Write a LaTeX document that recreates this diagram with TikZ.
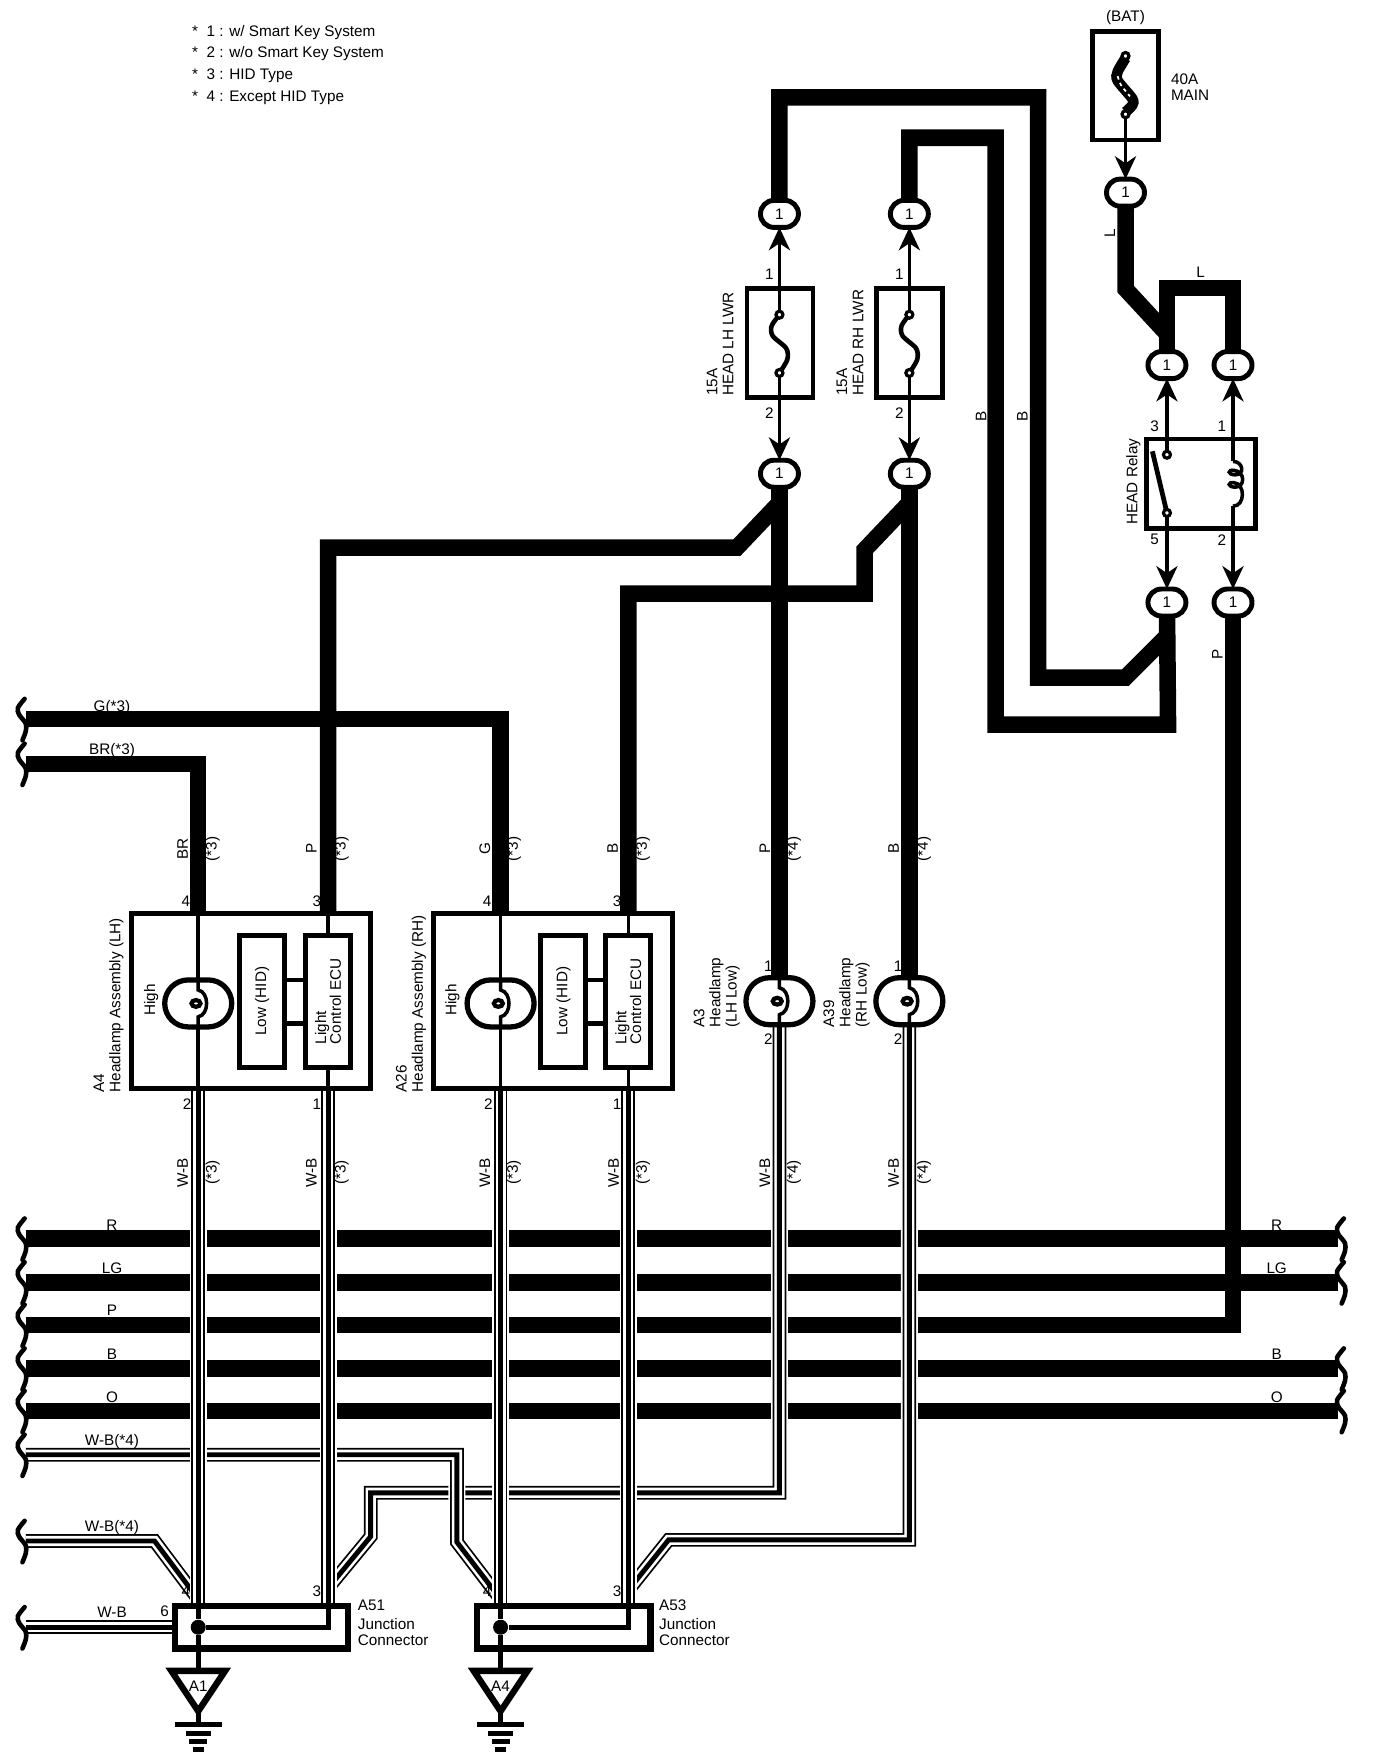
\documentclass[tikz,border=0pt]{standalone}
\usepackage{fontspec}
\setmainfont{Liberation Sans}
\usetikzlibrary{arrows.meta,backgrounds,shapes.misc}

\tikzset{
  wavy/.pic={\draw[line width=1.3pt,line cap=round] plot[smooth] coordinates {(-1,-18) (-7,-10) (-6,-4) (0,4) (0,11) (-3,19)};},
  fusefil/.pic={\draw[line width=1.3pt] plot[smooth] coordinates {(0,0) (-7,10) (-6,19) (6,30) (7,40) (0,52)};},
  lampfil/.pic={
    \draw[line width=1pt] (0,-21) -- (0,-12) .. controls (10,-10) and (10,10) .. (0,12) -- (0,21);
    \draw[line width=1.2pt,fill=white] (-2,0) ellipse (4 and 3);}
}

\begin{document}
\begin{tikzpicture}[x=0.011196cm, y=-0.011196cm]

\tikzstyle{lbl} = [font=\fontsize{4.35}{4.6}\selectfont, inner sep=0pt, align=left]
\tikzstyle{rlbl} = [lbl, rotate=90]
\tikzstyle{wire} = [line width=4.7pt]
\tikzstyle{thinwire} = [line width=1pt]
\tikzstyle{pinwire} = [line width=1pt, -{Stealth[length=6.5pt,width=6pt,inset=2pt]}]
\tikzstyle{boxline} = [line width=1.35pt]
\tikzstyle{cable} = [line width=3.9pt, preaction={draw=white,line width=4.8pt}, postaction={draw=white,line width=2.9pt}, postaction={draw=black,line width=1.4pt}]
\tikzstyle{box} = [rectangle, draw=black, line width=1.4pt, outer sep=0pt, inner sep=0pt]
\tikzstyle{fusebox} = [box, minimum width=0.66cm, minimum height=1.086cm]
\tikzstyle{asmbox} = [box, minimum width=2.39cm, minimum height=1.747cm]
\tikzstyle{subbox} = [box, font=\fontsize{4.35}{4.2}\selectfont, align=left, rotate=90, minimum width=1.32cm, minimum height=0.448cm]
\tikzstyle{jcbox} = [box, line width=1.8pt, minimum width=1.735cm, minimum height=0.425cm]
\tikzstyle{oval} = [rounded rectangle, draw=black, fill=white, line width=1.4pt, outer sep=0pt, inner sep=0pt, minimum width=0.38cm, minimum height=0.27cm, font=\fontsize{4.35}{4.6}\selectfont]
\tikzstyle{lamp} = [rounded rectangle, draw=black, fill=white, line width=1.5pt, outer sep=0pt, inner sep=0pt, minimum width=0.67cm, minimum height=0.47cm]
\tikzstyle{term} = [circle, draw=black, fill=white, line width=0.9pt, inner sep=0pt, minimum size=0.07cm, outer sep=0pt]
\tikzstyle{dot} = [circle, fill=black, inner sep=0pt, minimum size=0.15cm]

\useasboundingbox (0,0) rectangle (1229,1568);

% legend
\node[lbl, anchor=west] at (171,29) (legi) {*\ \ 1 : w/ Smart Key System};
\node[lbl, anchor=west] at (171,48) (legii) {*\ \ 2 : w/o Smart Key System};
\node[lbl, anchor=west] at (171,68) (legiii) {*\ \ 3 : HID Type};
\node[lbl, anchor=west] at (171,87) (legiv) {*\ \ 4 : Except HID Type};

% fuses and relay
\node[lbl] at (1005,16) (batlbl) {(BAT)};
\node[fusebox] at (1005,76.5) (fusemain) {};
\node[lbl, anchor=west] at (1045,78) (mainlbl) {40A\\MAIN};
\node[fusebox] at (696.5,306.5) (fuselh) {};
\node[fusebox] at (812,306.5) (fuserh) {};
\node[rlbl, anchor=west] at (643,354) (fuselhlbl) {15A\\HEAD LH LWR};
\node[rlbl, anchor=west] at (759,354) (fuserhlbl) {15A\\HEAD RH LWR};
\node[box, minimum width=1.086cm, minimum height=0.896cm] at (1072.5,432) (relay) {};
\node[rlbl] at (1012,430) (relaylbl) {HEAD Relay};

% connector ovals
\node[oval] at (696,191) (topa) {1};
\node[oval] at (812,191) (topb) {1};
\node[oval] at (696,423) (lowa) {1};
\node[oval] at (812,423) (lowb) {1};
\node[oval] at (1005,172) (bat) {1};
\node[oval] at (1042,326) (relc) {1};
\node[oval] at (1101,326) (reld) {1};
\node[oval] at (1042,538) (rele) {1};
\node[oval] at (1101,538) (relf) {1};

% headlamps
\node[asmbox] at (224.5,894) (asmlh) {};
\node[asmbox] at (494,894) (asmrh) {};
\node[lamp] at (177,896) (hilh) {};
\node[lamp] at (447,896) (hirh) {};
\node[subbox] at (234,894) (lowlh) {Low (HID)};
\node[subbox] at (293,894) (ecuth) {Light\\Control ECU};
\node[subbox] at (503,894) (lowrh) {Low (HID)};
\node[subbox] at (561,894) (ecurh) {Light\\Control ECU};
\node[lamp] at (696,894) (lamplh) {};
\node[lamp] at (812,894) (lamprh) {};

\node[rlbl] at (135,893) (hilhlbl) {High};
\node[rlbl] at (404,893) (hirhlbl) {High};
\node[rlbl, anchor=west] at (97,976) (asmlhlbl) {A4\\Headlamp Assembly (LH)};
\node[rlbl, anchor=west] at (367,976) (asmrhlbl) {A26\\Headlamp Assembly (RH)};
\node[rlbl, anchor=west] at (640,918) (lamplhlbl) {A3\\Headlamp\\(LH Low)};
\node[rlbl, anchor=west] at (756,918) (lamprhlbl) {A39\\Headlamp\\(RH Low)};

% junction connectors and grounds
\node[jcbox] at (233.5,1453) (jca) {};
\node[jcbox] at (503.5,1453) (jcb) {};
\node[lbl, anchor=north west] at (319,1428) (jcalbl) {A51\\[.8pt]Junction\\Connector};
\node[lbl, anchor=north west] at (588,1428) (jcblbl) {A53\\[.8pt]Junction\\Connector};
\node[dot] at (177,1453) (dota) {};
\node[dot] at (447,1453) (dotb) {};
\node[lbl] at (177,1506) (gnda) {A1};
\node[lbl] at (447,1506) (gndb) {A4};

% free wire ends
\coordinate (gend) at (23,642);
\coordinate (brend) at (23,682);
\coordinate (rl) at (23,1106);
\coordinate (rr) at (1195,1106);
\coordinate (lgl) at (23,1145);
\coordinate (lgr) at (1195,1145);
\coordinate (pl) at (23,1183);
\coordinate (bl) at (23,1222);
\coordinate (br) at (1195,1222);
\coordinate (ol) at (23,1260);
\coordinate (or) at (1195,1260);
\coordinate (wbi) at (23,1299);
\coordinate (wbii) at (23,1376);
\coordinate (wbiii) at (23,1453);

\begin{pgfonlayer}{background}
\draw[wire] (rl) -- (rr);
\draw[wire] (lgl) -- (lgr);
\draw[wire] (bl) -- (br);
\draw[wire] (ol) -- (or);
\draw[wire] (pl) -- (1101,1183) -- (relf.center);
\draw[wire] (gend) -- (447,642) -- (hirh |- asmrh.north);
\draw[wire] (brend) -- (177,682) -- (hilh |- asmlh.north);
\draw[wire] (topa.center) -- (696,87) -- (927,87) -- (927,605) -- (1005,605) -- (1043,567);
\draw[wire] (topb.center) -- (812,123) -- (889,123) -- (889,647) -- (1043,647) -- (rele.center);
\draw[wire] (bat.center) -- (1005,258) -- (1042,298);
\draw[wire] (relc.center) -- (1042,257) -- (1101,257) -- (reld.center);
\draw[wire] (lowa.center) -- (lamplh.north);
\draw[wire] (lowb.center) -- (lamprh.north);
\draw[wire] (696,449) -- (658,489) -- (293,489) -- (ecuth.east |- asmlh.north);
\draw[wire] (812,449) -- (772,491) -- (772,530) -- (561,530) -- (ecurh.east |- asmrh.north);

\draw[cable] (lamplh.south) -- (696,1333) -- (331,1333) -- (331,1372) -- (293,1418);
\draw[cable] (lamprh.south) -- (812,1375) -- (597,1375) -- (561,1420);
\draw[cable] (wbi) -- (408,1299) -- (408,1377) -- (447,1428);
\draw[cable] (wbii) -- (138,1376) -- (177,1428);
\draw[cable] (wbiii) -- (jca.west);
\draw[cable] (177,972) -- (dota |- jca.north);
\draw[cable] (293,972) -- (293,1434);
\draw[cable] (447,972) -- (dotb |- jcb.north);
\draw[cable] (561,972) -- (561,1434);
\end{pgfonlayer}

% wire ends
\pic at (gend) {wavy};
\pic at (brend) {wavy};
\pic at (rl) {wavy};
\pic at (lgl) {wavy};
\pic at (pl) {wavy};
\pic at (bl) {wavy};
\pic at (ol) {wavy};
\pic at (wbi) {wavy};
\pic at (wbii) {wavy};
\pic at (wbiii) {wavy};
\pic at ([xshift=0.067cm]rr) {wavy};
\pic at ([xshift=0.067cm]lgr) {wavy};
\pic at ([xshift=0.067cm]br) {wavy};
\pic at ([xshift=0.067cm]or) {wavy};

% inside the fuses
\pic at (696,281) {fusefil};
\pic at (812,281) {fusefil};
\node[term] at (696,281) (fla) {};
\node[term] at (696,333) (flb) {};
\node[term] at (812,281) (fra) {};
\node[term] at (812,333) (frb) {};
\draw[line width=3pt] plot[smooth] coordinates {(1005,52) (998,64) (998,72) (1011,88) (1011,94) (1005,100)};
\draw[white, line width=0.5pt, dash pattern=on 1pt off 1pt] plot[smooth] coordinates {(998,68) (1001,76) (1009,86)};
\node[term] at (1005,50) (fma) {};
\node[term] at (1005,102) (fmb) {};

\draw[pinwire] (fla) -- (topa.south);
\draw[pinwire] (fra) -- (topb.south);
\draw[pinwire] (flb) -- (lowa.north);
\draw[pinwire] (frb) -- (lowb.north);
\draw[pinwire] (fmb) -- (bat.north);

% inside the relay
\node[term] at (1042,406) (rca) {};
\node[term] at (1042,458) (rcb) {};
\coordinate (coila) at (1101,412);
\coordinate (coilb) at (1101,452);
\draw[boxline] (1029,403) -- (rcb);
\draw[pinwire] (rca) -- (relc.south);
\draw[pinwire] (rcb) -- (rele.north);
\draw[pinwire] (coila) -- (reld.south);
\draw[pinwire] (coilb) -- (relf.north);
\draw[thinwire] (coila) .. controls (1110,412) and (1112,424) .. (1103,424)
  .. controls (1096,424) and (1096,419) .. (1102,420)
  .. controls (1112,421) and (1112,435) .. (1103,435)
  .. controls (1096,435) and (1096,430) .. (1102,431)
  .. controls (1112,432) and (1112,452) .. (coilb);

% inside the headlamps
\pic at (hilh) {lampfil};
\pic at (hirh) {lampfil};
\pic at (lamplh) {lampfil};
\pic at (lamprh) {lampfil};
\draw[thinwire] (hilh |- asmlh.north) -- (hilh.north);
\draw[thinwire] (hilh.south) -- (hilh |- asmlh.south);
\draw[thinwire] (hirh |- asmrh.north) -- (hirh.north);
\draw[thinwire] (hirh.south) -- (hirh |- asmrh.south);
\draw[thinwire] (ecuth.east |- asmlh.north) -- (ecuth.east);
\draw[thinwire] (ecuth.west) -- (ecuth.west |- asmlh.south);
\draw[thinwire] (ecurh.east |- asmrh.north) -- (ecurh.east);
\draw[thinwire] (ecurh.west) -- (ecurh.west |- asmrh.south);
\draw[boxline] (lowlh.south |- 0,875) -- (ecuth.north |- 0,875);
\draw[boxline] (lowlh.south |- 0,914) -- (ecuth.north |- 0,914);
\draw[boxline] (lowrh.south |- 0,875) -- (ecurh.north |- 0,875);
\draw[boxline] (lowrh.south |- 0,914) -- (ecurh.north |- 0,914);

% inside the junction connectors
\draw[boxline] (dota) -- (293,1453) -- (293,1434);
\draw[boxline] (dotb) -- (561,1453) -- (561,1434);
\draw[boxline] (dota |- jca.north) -- (dota) -- (177,1492);
\draw[boxline] (dotb |- jcb.north) -- (dotb) -- (447,1492);

% grounds
\draw[line width=1.8pt] (153,1492) -- (201,1492) -- (177,1528) -- cycle;
\draw[line width=1.8pt] (423,1492) -- (471,1492) -- (447,1528) -- cycle;
\draw[boxline] (177,1528) -- (177,1540);
\draw[boxline] (447,1528) -- (447,1540);
\draw[boxline] (156,1540) -- (198,1540);
\draw[line width=1.5pt] (166,1548) -- (188,1548);
\draw[line width=1.5pt] (169,1555) -- (185,1555);
\draw[line width=1.5pt] (172,1562) -- (182,1562);
\draw[boxline] (426,1540) -- (468,1540);
\draw[line width=1.5pt] (436,1548) -- (458,1548);
\draw[line width=1.5pt] (439,1555) -- (455,1555);
\draw[line width=1.5pt] (442,1562) -- (452,1562);

% wire colours
\node[lbl] at (100,632) (lg) {G(*3)};
\node[lbl] at (100,670) (lbr) {BR(*3)};
\node[rlbl] at (991,208) (ll) {L};
\node[lbl] at (1072,243) (lla) {L};
\node[rlbl] at (876,372) (lba) {B};
\node[rlbl] at (913,372) (lbb) {B};
\node[rlbl] at (1087,584) (lp) {P};
\node[lbl] at (100,1094) (rla) {R};
\node[lbl] at (1140,1094) (rlb) {R};
\node[lbl] at (100,1132) (lga) {LG};
\node[lbl] at (1140,1132) (lgb) {LG};
\node[lbl] at (100,1170) (pla) {P};
\node[lbl] at (100,1209) (bla) {B};
\node[lbl] at (1140,1209) (blb) {B};
\node[lbl] at (100,1248) (ola) {O};
\node[lbl] at (1140,1248) (olb) {O};
\node[lbl] at (100,1287) (wba) {W-B(*4)};
\node[lbl] at (100,1364) (wbb) {W-B(*4)};
\node[lbl] at (100,1440) (wbc) {W-B};
\node[lbl] at (147,1439) (wbp) {6};

\node[rlbl] at (163,758) (ua) {BR};
\node[rlbl] at (190,758) (uas) {(*3)};
\node[rlbl] at (278,758) (ub) {P};
\node[rlbl] at (305,758) (ubs) {(*3)};
\node[rlbl] at (433,758) (uc) {G};
\node[rlbl] at (459,758) (ucs) {(*3)};
\node[rlbl] at (547,758) (ud) {B};
\node[rlbl] at (574,758) (uds) {(*3)};
\node[rlbl] at (683,758) (ue) {P};
\node[rlbl] at (709,758) (ues) {(*4)};
\node[rlbl] at (798,758) (uf) {B};
\node[rlbl] at (825,758) (ufs) {(*4)};

\node[rlbl] at (163,1047) (da) {W-B};
\node[rlbl] at (190,1047) (das) {(*3)};
\node[rlbl] at (278,1047) (db) {W-B};
\node[rlbl] at (305,1047) (dbs) {(*3)};
\node[rlbl] at (433,1047) (dc) {W-B};
\node[rlbl] at (459,1047) (dcs) {(*3)};
\node[rlbl] at (548,1047) (dd) {W-B};
\node[rlbl] at (574,1047) (dds) {(*3)};
\node[rlbl] at (683,1047) (de) {W-B};
\node[rlbl] at (709,1047) (des) {(*4)};
\node[rlbl] at (798,1047) (df) {W-B};
\node[rlbl] at (825,1047) (dfs) {(*4)};

% pin numbers
\node[lbl] at (687,245) (pfa) {1};
\node[lbl] at (687,369) (pfb) {2};
\node[lbl] at (803,245) (pfc) {1};
\node[lbl] at (803,369) (pfd) {2};
\node[lbl] at (1031,381) (pra) {3};
\node[lbl] at (1091,381) (prb) {1};
\node[lbl] at (1031,482) (prc) {5};
\node[lbl] at (1091,482) (prd) {2};
\node[lbl] at (166,805) (paa) {4};
\node[lbl] at (283,805) (pab) {3};
\node[lbl] at (435,805) (pac) {4};
\node[lbl] at (551,805) (pad) {3};
\node[lbl] at (167,986) (pae) {2};
\node[lbl] at (283,986) (paf) {1};
\node[lbl] at (436,986) (pag) {2};
\node[lbl] at (551,986) (pah) {1};
\node[lbl] at (686,863) (pma) {1};
\node[lbl] at (686,928) (pmb) {2};
\node[lbl] at (802,863) (pmc) {1};
\node[lbl] at (802,928) (pmd) {2};
\node[lbl] at (166,1421) (pja) {4};
\node[lbl] at (283,1421) (pjb) {3};
\node[lbl] at (435,1421) (pjc) {4};
\node[lbl] at (551,1421) (pjd) {3};

\end{tikzpicture}
\end{document}
